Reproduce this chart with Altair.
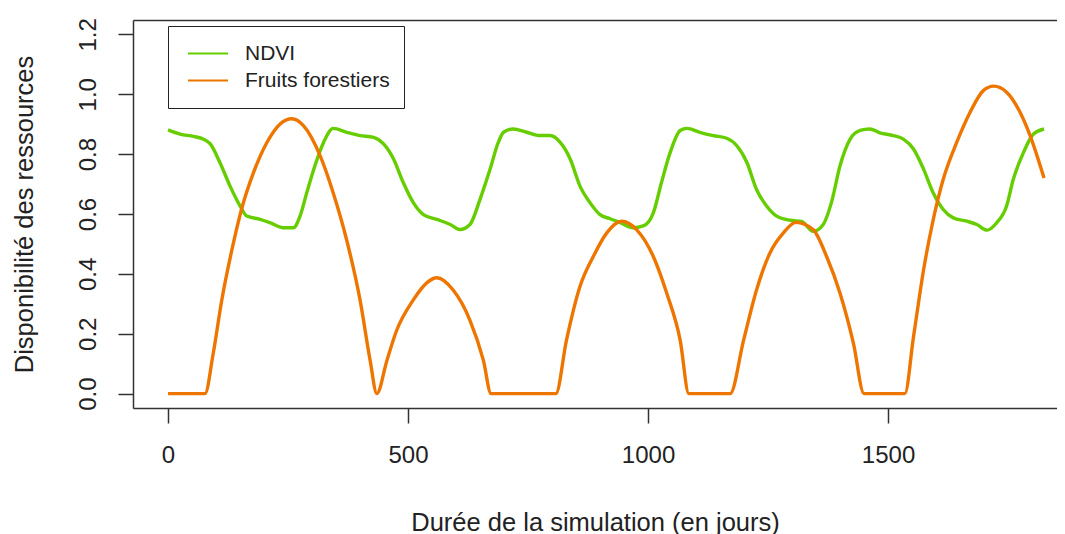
import altair as alt
import pandas as pd

# NDVI series (day, value)
nd_days = [0, 25, 53, 74, 88, 108, 129, 150, 164, 192, 212, 240, 261, 275, 289, 306, 324, 344, 372, 400,
           428, 449, 470, 490, 511, 532, 560, 588, 608, 629, 650, 671, 688, 699, 719, 747, 775, 796, 817, 838,
           858, 879, 900, 921, 942, 969, 990, 1011, 1028, 1046, 1067, 1081, 1108, 1136, 1164, 1185, 1206, 1226, 1247, 1268,
           1296, 1320, 1344, 1365, 1382, 1400, 1421, 1442, 1462, 1483, 1511, 1532, 1553, 1574, 1594, 1615, 1636, 1664, 1685, 1706,
           1726, 1747, 1761, 1782, 1803, 1825]
nd_vals = [0.881, 0.867, 0.859, 0.85, 0.834, 0.772, 0.694, 0.627, 0.593, 0.582, 0.571, 0.554, 0.554, 0.593, 0.671, 0.761, 0.839, 0.886, 0.873, 0.862,
           0.856, 0.834, 0.783, 0.705, 0.638, 0.598, 0.582, 0.565, 0.548, 0.565, 0.649, 0.75, 0.839, 0.873, 0.884, 0.873, 0.862, 0.862, 0.839, 0.783,
           0.694, 0.638, 0.598, 0.584, 0.571, 0.554, 0.56, 0.604, 0.705, 0.805, 0.879, 0.886, 0.873, 0.862, 0.853, 0.828, 0.772, 0.682, 0.627, 0.593,
           0.579, 0.575, 0.542, 0.565, 0.638, 0.761, 0.85, 0.879, 0.884, 0.871, 0.862, 0.85, 0.817, 0.75, 0.671, 0.615, 0.587, 0.576, 0.565, 0.546,
           0.57, 0.627, 0.716, 0.805, 0.867, 0.884]

# Fruits forestiers series
fr_days = [0, 77, 94, 112, 133, 153, 178, 206, 233, 258, 282, 317, 344, 372, 400, 421, 435, 456, 476, 511,
           539, 560, 594, 629, 657, 673, 808, 830, 858, 886, 914, 945, 976, 1011, 1039, 1067, 1085, 1171, 1199, 1226,
           1254, 1282, 1308, 1344, 1372, 1400, 1428, 1450, 1535, 1553, 1574, 1594, 1615, 1643, 1671, 1699, 1720, 1747, 1775, 1796,
           1825]
fr_vals = [0, 0, 0.133, 0.313, 0.48, 0.615, 0.738, 0.839, 0.90, 0.918, 0.895, 0.794, 0.671, 0.514, 0.313, 0.111, 0, 0.111, 0.21, 0.313,
           0.37, 0.387, 0.346, 0.245, 0.111, 0, 0, 0.178, 0.357, 0.458, 0.537, 0.576, 0.548, 0.458, 0.335, 0.178, 0, 0, 0.178, 0.346,
           0.47, 0.537, 0.572, 0.548, 0.458, 0.335, 0.167, 0, 0, 0.189, 0.413, 0.58, 0.716, 0.839, 0.94, 1.013, 1.027, 1.007, 0.94, 0.862,
           0.72]

series_names = ["NDVI", "Fruits forestiers"]
series_colors = ["#66CD00", "#EE7600"]
x_ticks = [0, 500, 1000, 1500]
y_ticks = [0.0, 0.2, 0.4, 0.6, 0.8, 1.0, 1.2]

df_nd = pd.DataFrame({"day": nd_days, "value": nd_vals, "serie": series_names[0]})
df_fr = pd.DataFrame({"day": fr_days, "value": fr_vals, "serie": series_names[1]})
df_all = pd.concat([df_nd, df_fr], ignore_index=True)

FONT = "Liberation Sans"
xscale = alt.Scale(domain=[-73, 1852], nice=False, zero=False)
yscale = alt.Scale(domain=[-0.048, 1.248], nice=False, zero=False)
cscale = alt.Scale(domain=series_names, range=series_colors)

x_axis = alt.Axis(values=x_ticks, format="d", grid=False, tickSize=15, tickWidth=1.5,
                  tickColor="#333", domainColor="#333", domainWidth=1.5,
                  labelFontSize=24, labelColor="#222", labelPadding=20, labelFont=FONT,
                  title="Durée de la simulation (en jours)", titleFont=FONT, titleFontSize=25.5,
                  titleFontWeight="normal", titleColor="#222", titleBaseline="alphabetic",
                  titleY=122)
y_axis = alt.Axis(values=y_ticks, format=".1f", grid=False, tickSize=15, tickWidth=1.5,
                  tickColor="#333", domainColor="#333", domainWidth=1.5,
                  labelFontSize=24, labelColor="#222", labelPadding=23, labelFont=FONT,
                  labelAngle=270, labelAlign="center", labelBaseline="alphabetic",
                  title="Disponibilité des ressources", titleFont=FONT, titleFontSize=25.5,
                  titleFontWeight="normal", titleColor="#222", titleAngle=270,
                  titleAlign="center", titleBaseline="middle", titleX=-109, titleY=194)
legend = alt.Legend(orient="none", legendX=35, legendY=6, title=None,
                    symbolType="stroke", symbolSize=1600, symbolStrokeWidth=2, symbolOffset=5,
                    labelFontSize=21, labelFont=FONT, labelColor="#222",
                    labelOffset=16, padding=14, rowPadding=0, clipHeight=27,
                    strokeColor="#222", fillColor="white")

ndvi = alt.Chart(df_nd).mark_line(strokeWidth=3.4, strokeJoin="round", interpolate="monotone").encode(
    x=alt.X("day:Q", scale=xscale, axis=x_axis),
    y=alt.Y("value:Q", scale=yscale, axis=y_axis),
    color=alt.Color("serie:N", scale=cscale, legend=legend),
)

fruits = alt.Chart(df_fr).mark_line(strokeWidth=3.4, strokeJoin="round", interpolate="monotone").encode(
    x=alt.X("day:Q", scale=xscale, axis=x_axis),
    y=alt.Y("value:Q", scale=yscale, axis=y_axis),
    color=alt.Color("serie:N", scale=cscale, legend=legend),
)

frame = alt.Chart(df_all).mark_line(opacity=0).encode(
    x=alt.X("day:Q", scale=xscale,
            axis=alt.Axis(orient="top", labels=False, ticks=False, title=None, grid=False,
                          domainColor="#333", domainWidth=1.5)),
    y=alt.Y("value:Q", scale=yscale, axis=y_axis),
)

data_layers = alt.layer(ndvi, fruits)

chart = alt.layer(data_layers, frame).resolve_axis(x="independent").properties(
    width=924, height=388,
    autosize=alt.AutoSizeParams(type="none"),
    padding={"left": 125, "top": 12, "right": 0, "bottom": 126},
).configure_view(stroke=None).configure(background="white")

chart.save("out.html", embed_options={"renderer": "svg", "actions": False})
